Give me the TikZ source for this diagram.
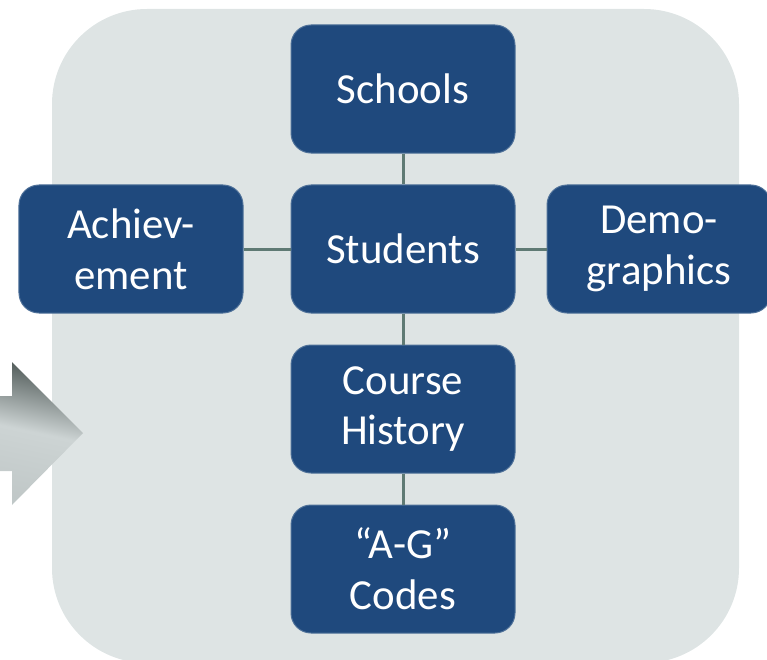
\documentclass[tikz,border=0pt]{standalone}
\usepackage{fontspec}
\setmainfont{Carlito}
\begin{document}
\definecolor{panel}{HTML}{DEE4E4}
\definecolor{boxblue}{HTML}{1F497D}
\definecolor{boxedge}{HTML}{4F7199}
\definecolor{linkgray}{HTML}{5F7A74}
\definecolor{arrowdark}{HTML}{505A58}
\definecolor{arrowlight}{HTML}{CDD4D4}
\begin{tikzpicture}[x=1bp,y=-1bp,
  entity/.style={draw=boxedge, line width=1bp, fill=boxblue, rounded corners=20bp,
    minimum width=224bp, minimum height=128bp, inner sep=0pt, text=white,
    align=center, font=\fontsize{43}{51}\selectfont},
  link/.style={draw=linkgray, line width=3bp}]
  \useasboundingbox (0,0) rectangle (767,660);
  % light panel behind the entities
  \fill[panel, rounded corners=95bp] (52,9) rectangle (739,663);
  % shaded arrow entering from the left
  \shade[top color=arrowdark, bottom color=arrowlight!90!arrowdark, middle color=arrowlight, shading angle=-12]
    (0,396) -- (12,396) -- (12,362) -- (83,433) -- (12,505) -- (12,471) -- (0,471) -- cycle;
  % entities
  \node[entity] (schools) at (403,89) {Schools};
  \node[entity] (students) at (403,249) {Students};
  \node[entity] (achieve) at (131,249) {Achiev-\\ement};
  \node[entity] (demo) at (659,249) {Demo-\\graphics};
  \node[entity] (course) at (403,409) {Course\\History};
  \node[entity] (codes) at (403,569) {“A-G”\\Codes};
  % connectors
  \draw[link] (schools) -- (students);
  \draw[link] (achieve) -- (students);
  \draw[link] (students) -- (demo);
  \draw[link] (students) -- (course);
  \draw[link] (course) -- (codes);
\end{tikzpicture}
\end{document}
